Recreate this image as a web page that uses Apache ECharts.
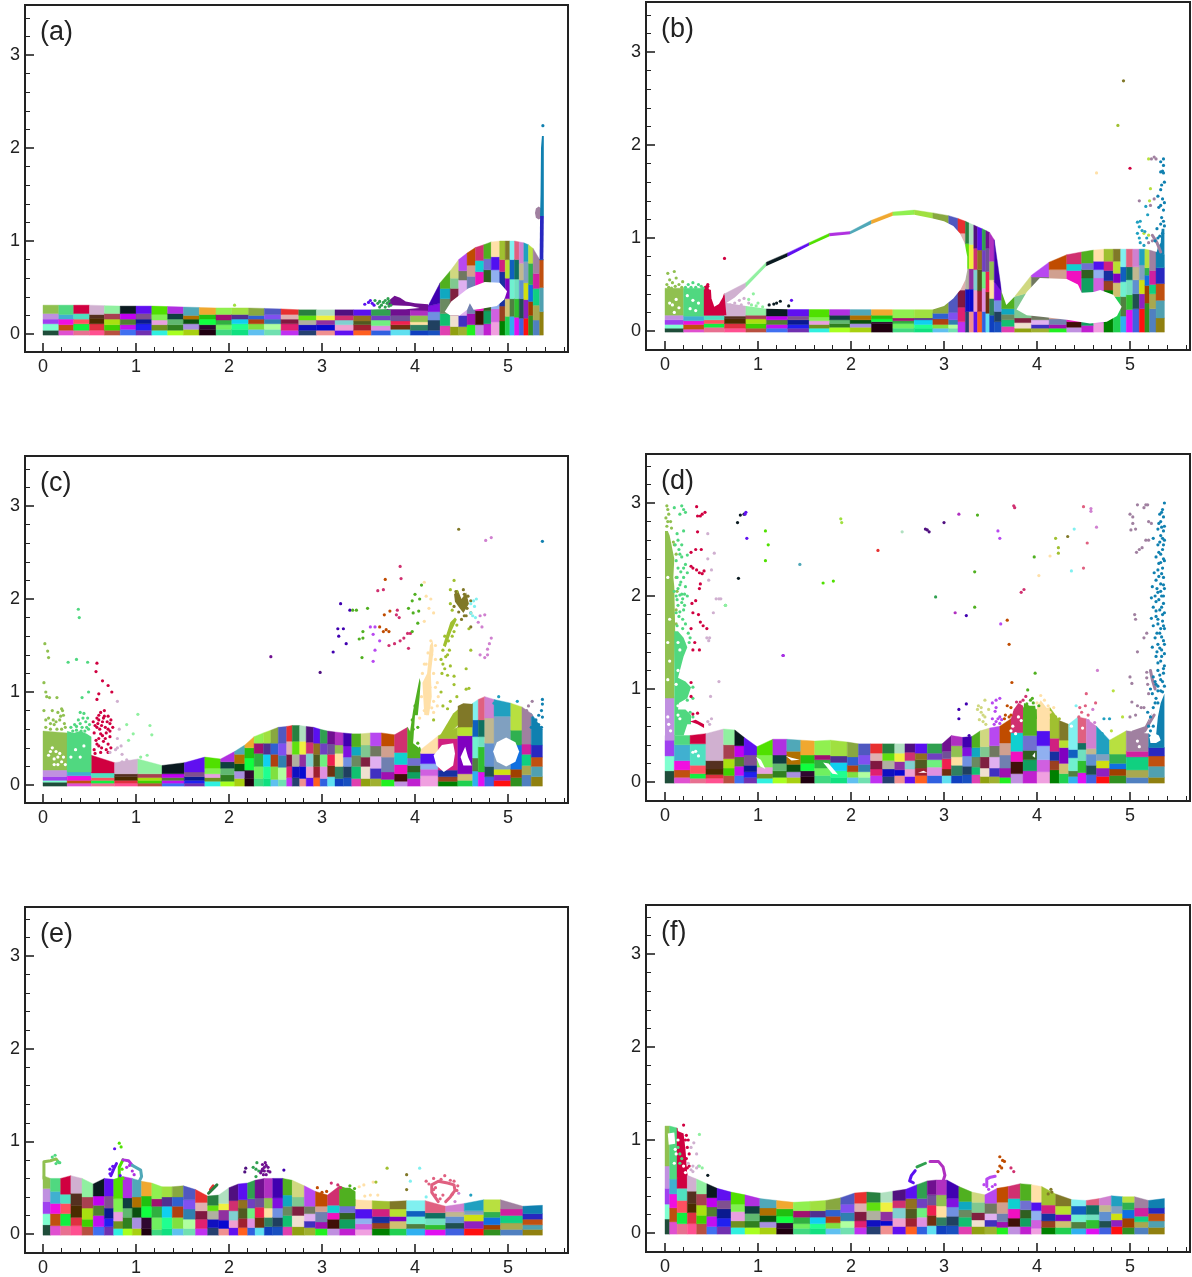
<!DOCTYPE html>
<html><head><meta charset="utf-8">
<script src="https://cdn.jsdelivr.net/npm/echarts@6/dist/echarts.min.js"></script>
<style>html,body{margin:0;padding:0;background:#fff}#c{width:1192px;height:1277px;filter:blur(.45px)}</style>
</head><body><div id="c"></div>
<script>
// ---------- shared: column colours, bottom row to top row ----------
const cellColours=[
['#1f4d3a','#7fffd0','#a040f0','#c090e0','#90c050'],['#e050d0','#c05010','#f010e0','#40b0d0','#50d880'],
['#e87090','#10f040','#ff5060','#50e0c0','#d00040'],['#ff5090','#e03040','#4a2c00','#553020','#d0b0d0'],
['#b85040','#40d000','#a8e010','#a84050','#90f0a0'],['#4070f0','#c010f0','#508030','#c000f0','#0a1a20'],
['#7030b0','#2020f0','#0a1a90','#805090','#6010f0'],['#30f0e0','#709020','#e8a0e0','#80f050','#50e000'],
['#a8ff20','#308020','#60b870','#103f40','#b030e0'],['#a8d010','#a890e0','#0a5010','#b07000','#50a8b8'],
['#200010','#300830','#10ff40','#20c010','#f0a830'],['#40d880','#70f060','#30b040','#a01070','#90f050'],
['#10e080','#20ff90','#10d0f0','#503090','#a0e040'],['#60c0f0','#80e040','#b04010','#3060d0','#88a840'],
['#70e0b0','#b0ffa0','#3080b0','#8050f0','#5058c0'],['#c030f0','#e02070','#801840','#e0b0b0','#e83030'],
['#254070','#1010c0','#b0b0a0','#60e010','#288040'],['#f09090','#0808d0','#9030a0','#f0f040','#b0e0c0'],
['#6010f0','#f0a0d0','#80d0d0','#d03070','#501080'],['#ff6020','#a02030','#505a20','#907020','#5a10f0'],
['#3060e0','#e090e0','#70f080','#7040c0','#30a050'],['#60e0f0','#703010','#f02050','#705098','#701090'],
['#1040c0','#308060','#ffe0a0','#90c050','#b030c0'],['#1850c0','#204060','#7090e0','#8010e0','#4000b0'],
['#e040b0','#10c070','#6a8a60','#10a8c0','#50b020'],['#90a010','#f0e0d0','#802040','#80c890','#d0d880'],
['#a0b030','#4030c0','#e0b0f0','#707860','#b848f0'],['#20f020','#a010b0','#7080b0','#d0a090','#c04c00'],
['#c090e0','#401008','#f010c0','#10d0d0','#d03070'],['#c020d0','#10a060','#306020','#7070d0','#50b020'],
['#f0a0e0','#d060e0','#90b0f0','#5010f0','#ffe0a8'],['#008000','#9a4020','#1830a0','#d02080','#a0c030'],
['#20d050','#d0c070','#8000c0','#b8e030','#807828'],['#30b0f0','#508040','#70f0d0','#1060c0','#80f0f0'],
['#e010f0','#30c030','#70e0c0','#107060','#e06080'],['#4060e0','#205050','#6090d0','#c0b890','#d080d0'],
['#ff1010','#9020c0','#d0e010','#80a0c0','#20a0c0'],['#309020','#a04000','#1070e0','#30b050','#b8e040'],
['#5080c0','#a8a850','#10d080','#d020a0','#a080a0'],['#908010','#50a0b0','#c05010','#2828c0','#1080b0']];
const xTickLabels=[0,1,2,3,4,5];
const yTickLabels=[0,1,2,3];
const xMinorTicks=[.2,.4,.6,.8,1.2,1.4,1.6,1.8,2.2,2.4,2.6,2.8,3.2,3.4,3.6,3.8,4.2,4.4,4.6,4.8,5.2,5.4,5.6];
const yMinorTicks=[.2,.4,.6,.8,1.2,1.4,1.6,1.8,2.2,2.4,2.6,2.8,3.2,3.4];

// ---------- panel (a) ----------
const edgesA=[0,.17,.33,.5,.66,.83,1,1.17,1.34,1.51,1.68,1.86,2.03,2.21,2.38,2.56,2.75,2.94,3.14,3.34,3.53,3.74,3.95,4.14,4.27,4.38,4.47,4.56,4.65,4.74,4.82,4.91,4.97,5.02,5.07,5.12,5.17,5.22,5.27,5.34,5.38];
const surfA=[.31,.31,.31,.31,.305,.3,.3,.3,.295,.29,.285,.28,.28,.28,.275,.27,.26,.26,.26,.26,.26,.27,.3,.3,.55,.68,.8,.87,.93,.96,.99,1,1,1,1,.99,.98,.96,.92,.8,.8];
const rowsA=[[.04,.11,.16,.22],[.04,.1,.16,.21],[.04,.11,.16,.22],[.04,.11,.17,.21],[.04,.1,.16,.22],[.05,.1,.16,.22],[.04,.11,.16,.22],[.04,.1,.15,.21],[.04,.1,.16,.22],[.05,.11,.16,.2],[.05,.1,.16,.21],[.05,.1,.15,.21],[.05,.11,.16,.21],[.05,.11,.16,.2],[.05,.11,.16,.21],[.04,.11,.16,.21],[.04,.1,.15,.2],[.04,.1,.15,.2],[.04,.1,.15,.2],[.04,.1,.14,.2],[.04,.09,.15,.2],[.05,.1,.14,.2],[.04,.1,.13,.2],[.04,.15,.24,.33],[.09,.22,.38,.49],[.08,.2,.49,.6],[.08,.2,.58,.68],[.1,.22,.62,.74],[.1,.25,.67,.79],[.11,.25,.69,.81],[.13,.27,.69,.83],[.14,.3,.67,.8],[.19,.38,.6,.8],[.19,.38,.59,.8],[.18,.38,.59,.8],[.17,.38,.58,.76],[.17,.37,.55,.78],[.2,.35,.53,.76],[.15,.31,.49,.65],[.24,.5,.8,.8]];
const holesA=[[3.65,.28,3.75,.31,3.95,.3,4.05,.28,3.9,.265,3.72,.265],[4.32,.24,4.39,.35,4.57,.49,4.75,.56,4.91,.55,4.99,.46,4.96,.37,4.88,.3,4.7,.27,4.63,.26,4.59,.33,4.56,.26,4.48,.2,4.38,.2]];
const blobsA=[[22,5,[3.7,.26,3.72,.36,3.78,.41,3.84,.39,3.9,.35,4,.33,4.14,.32,4.14,.25]],[39,5,[5.29,1.3,5.3,1.35,5.33,1.37,5.36,1.35,5.37,1.3,5.36,1.25,5.33,1.23,5.3,1.25]],[40,4,[5.34,.8,5.345,1.27,5.385,1.27,5.38,.8]],[40,5,[5.345,1.27,5.35,1.5,5.355,2.0,5.365,2.13,5.385,2.13,5.385,1.27]]];
const strandsA=[];
const sprayA=[[20,5,[3.46,.32,3.5,.34,3.52,.36,3.54,.33,3.56,.31]],[21,5,[3.57,.36,3.6,.33,3.62,.35,3.64,.31,3.66,.34,3.68,.36,3.7,.33,3.72,.35,3.74,.31,3.62,.29,3.68,.29,3.72,.3,3.71,.38]],[13,5,[2.06,.31]],[40,5,[5.375,2.24]]];

// ---------- panel (b) ----------
const edgesB=[0,.2,.42,.64,.87,1.09,1.32,1.55,1.77,1.99,2.22,2.45,2.68,2.88,3.05,3.15,3.23,3.27,3.32,3.36,3.41,3.45,3.49,3.54,3.62,3.76,3.94,4.13,4.32,4.48,4.61,4.72,4.82,4.9,4.96,5.03,5.1,5.16,5.21,5.28,5.37];
const surfB=[.46,.46,.46,.4,.52,.74,.84,.95,1.05,1.07,1.19,1.28,1.3,1.27,1.24,1.21,1.18,1.16,1.14,1.12,1.1,1.08,1.06,.98,.42,.37,.6,.74,.82,.85,.87,.88,.88,.88,.88,.88,.88,.88,.87,.85,.82];
const rowsB=[[.03,.07,.12,.17],[.02,.07,.11,.16],[.04,.08,.12,.17],[.03,.08,.13,.16],[.03,.08,.13,.17],[.03,.07,.12,.16],[.03,.07,.12,.16],[.03,.07,.11,.15],[.04,.08,.12,.17],[.04,.08,.12,.17],[.08,.1,.13,.17],[.03,.08,.11,.14],[.03,.07,.12,.14],[.03,.07,.13,.19],[.03,.07,.12,.2],[.1,.255,.44,1.05],[.21,.45,.67,.94],[.21,.45,.67,.93],[.21,.44,.66,.89],[.21,.43,.66,.87],[.21,.46,.64,.87],[.19,.42,.64,.89],[.17,.35,.55,.75],[.1,.21,.33,.53],[.05,.12,.18,.24],[.03,.09,.14,.42],[.03,.07,.12,.58],[.03,.07,.13,.66],[.04,.1,.65,.72],[.06,.57,.66,.73],[.09,.57,.66,.75],[.44,.54,.65,.75],[.37,.52,.62,.75],[.16,.37,.53,.69],[.23,.39,.55,.69],[.24,.4,.55,.69],[.24,.4,.55,.71],[.3,.49,.6,.68],[.24,.4,.5,.65],[.14,.33,.51,.68]];
const holesB=[[.66,.3,.87,.27,1.09,.24,1.32,.235,2.88,.23,3,.27,3.1,.35,3.18,.45,3.23,.55,3.25,.65,3.25,.8,3.22,.95,3.17,1.05,3.1,1.13,3,1.18,2.88,1.21,2.68,1.25,2.45,1.24,2.22,1.15,1.99,1.04,1.77,1.02,1.55,.92,1.32,.8,1.09,.7,.87,.47,.75,.36],[3.62,.42,3.67,.28,3.76,.37,3.76,.5,3.62,.5],[3.78,.23,3.89,.42,4.03,.57,4.32,.56,4.44,.5,4.48,.41,4.61,.42,4.68,.44,4.82,.39,4.91,.26,4.86,.16,4.75,.1,4.57,.08,4.32,.12,4.07,.15,3.89,.17],[.49,.5,.5,.35,.53,.26,.58,.29,.62,.36,.64,.42,.64,.5]];
const blobsB=[[3,5,[.42,.17,.42,.48,.46,.5,.5,.3,.53,.26,.58,.3,.64,.39,.66,.17]],[40,5,[5.28,.82,5.3,.9,5.33,.95,5.34,1.1,5.37,1.1,5.37,.82]]];
const strandsB=[[39,5,[5.24,1.03,5.29,.95,5.33,.85]]];
const sprayB=[[1,5,[.03,.62,.1,.64,.05,.55,.12,.57,.02,.5,.08,.52,.15,.5,.04,.47,.11,.48,.18,.47,.07,.46,.19,.53]],[2,5,[.25,.5,.3,.52,.36,.5,.39,.48,.28,.47,.22,.47,.33,.47,.41,.46]],[3,5,[.46,.5,.46,.48,.45,.45,.64,.78]],[4,5,[.7,.28,.75,.3,.8,.33,.85,.35,.82,.28,.78,.26,.9,.3]],[5,5,[.95,.4,.9,.34,1,.3,1.05,.26,.93,.28,.98,.27]],[6,5,[1.2,.3,1.24,.32,1.12,.28,1.33,.27,1.17,.29]],[7,5,[1.36,.33]],[33,5,[4.93,2.69]],[32,5,[4.87,2.21]],[31,5,[4.64,1.7]],[3,5,[5,1.75]],[39,5,[5.23,1.85,5.26,1.87,5.28,1.85,5.26,1.42,5.22,1.35,5.1,1.4,5.2,.95,5.24,.97]],[38,5,[5.2,1.85,5.22,1.53,5.21,1.4,5.15,1.05,5.2,1.03]],[37,5,[5.08,1.17,5.1,1.12,5.11,1.18,5.08,1.05,5.1,1,5.13,1.08,5.16,1.07,5.11,.95,5.18,1,5.15,.92,5.17,1.34,5.19,1.25]],[40,5,[5.36,1.85,5.33,1.82,5.36,1.78,5.35,1.72,5.33,1.71,5.36,1.7,5.37,1.6,5.34,1.57,5.33,1.52,5.3,1.45,5.35,1.42,5.37,1.38,5.33,1.35,5.36,1.3,5.31,1.33,5.34,1.22,5.36,1.18,5.33,1.15,5.37,1.13,5.29,1.1,5.35,1.05,5.32,1.02,5.3,1,5.27,.97]],[0,0,[.05,.3,.08,.28,.12,.34,.15,.25,.24,.38,.3,.33,.36,.3,.27,.24,.1,.2,.33,.22]]];

// ---------- panel (c) ----------
const edgesC=[0,.26,.52,.77,1.02,1.28,1.52,1.74,1.91,2.06,2.17,2.27,2.37,2.45,2.53,2.62,2.68,2.76,2.83,2.91,2.98,3.06,3.14,3.23,3.32,3.42,3.52,3.64,3.78,3.92,4.06,4.25,4.46,4.62,4.68,4.75,4.85,5.03,5.15,5.25,5.37];
const surfC=[.58,.56,.32,.24,.28,.21,.24,.3,.28,.36,.43,.52,.56,.59,.62,.63,.64,.64,.63,.62,.6,.58,.57,.56,.55,.55,.56,.56,.54,.62,.38,.53,.62,.88,.92,.95,.92,.88,.84,.77,.6];
const rowsC=[[.03,.05,.09,.16],[.02,.05,.1,.14],[.02,.05,.08,.13],[.02,.05,.09,.12],[.02,.05,.08,.12],[.02,.05,.08,.12],[.02,.05,.09,.14],[.04,.08,.12,.18],[.04,.11,.18,.25],[.07,.15,.23,.33],[.07,.16,.29,.4],[.07,.2,.34,.45],[.07,.2,.33,.45],[.06,.2,.33,.45],[.06,.19,.32,.45],[.08,.2,.33,.47],[.08,.2,.33,.47],[.07,.2,.33,.47],[.08,.2,.34,.46],[.08,.2,.33,.45],[.07,.2,.33,.45],[.09,.21,.33,.44],[.07,.2,.34,.43],[.08,.2,.3,.42],[.07,.2,.32,.41],[.07,.2,.3,.43],[.07,.18,.31,.42],[.06,.14,.3,.42],[.04,.12,.22,.35],[.07,.14,.21,.29],[.1,.17,.23,.34],[.04,.09,.16,.5],[.05,.12,.53,.66],[.15,.29,.52,.7],[.14,.41,.52,.7],[.09,.2,.45,.72],[.05,.11,.17,.74],[.08,.17,.43,.59],[.11,.21,.33,.44],[.09,.2,.3,.43]];
const holesC=[[4.2,.32,4.29,.43,4.41,.45,4.43,.34,4.41,.21,4.31,.14,4.23,.21],[4.49,.3,4.54,.41,4.57,.3,4.61,.21,4.52,.21],[4.84,.36,4.88,.46,4.98,.51,5.08,.46,5.12,.36,5.08,.25,4.98,.2,4.88,.25],[3.98,.45,4.04,.4,4.1,.55,4.12,.75,4,.75],[4.22,.52,4.1,.42,4.08,.7,4.15,.72]];
const blobsC=[[2,5,[.26,.14,.26,.58,.33,.56,.4,.58,.47,.55,.52,.52,.52,.14]],[30,5,[3.93,.43,3.95,.6,3.98,.8,4.02,1,4.05,1.15,4.06,1.1,4.05,.95,4.03,.75,4,.6,4,.45,4.06,.4,4.06,.36,3.92,.36]],[31,5,[4.1,.75,4.08,1.1,4.13,1.2,4.16,1.5,4.19,1.55,4.2,1.45,4.17,1.2,4.18,.95,4.15,.75]],[32,5,[4.25,.5,4.41,.77,4.47,.82,4.5,.68,4.43,.61,4.31,.52]],[33,5,[4.46,.62,4.46,.85,4.52,.88,4.62,.87,4.62,.62]],[33,5,[4.42,2.05,4.46,2.1,4.5,2.0,4.55,2.07,4.58,1.95,4.52,1.85,4.48,1.9,4.43,1.97]],[32,5,[4.3,1.5,4.38,1.75,4.43,1.8,4.45,1.78,4.39,1.65,4.33,1.48]]];
const strandsC=[];
const sprayC=[[1,5,[.02,1.52,.05,1.44,.06,1.37,.01,1.1,.03,1,.04,.95,.07,.94,.15,.94,.2,.82,.22,.75,.1,.8,.18,.7,.06,.72,.12,.65,.03,.7,.23,.66,.15,.6,.03,.62,.08,.6,.2,.6,.24,.62,.11,.7,.16,.78,.19,.74,.21,.8,.08,.66,.14,.68,.01,.8]],[2,5,[.38,1.89,.39,1.8,.27,1.32,.36,1.35,.48,1.32,.49,1,.42,.94,.4,.78,.44,.77,.48,.72,.38,.7,.34,.65,.42,.62,.5,.65,.3,.62,.45,.58,.36,.59,.4,.66,.46,.68,.43,.72,.36,.63,.32,.58,.49,.6,.41,.58,.47,.62]],[3,5,[.58,1.31,.57,1.22,.64,1.12,.7,1.07,.74,1,.6,.98,.58,.92,.54,.68,.6,.7,.65,.72,.7,.74,.62,.78,.66,.8,.72,.66,.58,.62,.63,.64,.7,.6,.55,.56,.62,.55,.68,.56,.75,.62,.57,.48,.65,.47,.6,.42,.7,.44,.55,.38,.56,.64,.59,.66,.61,.6,.64,.68,.67,.62,.69,.68,.73,.7,.66,.74,.58,.72,.6,.75,.72,.58,.64,.53,.6,.5,.67,.5,.72,.52,.58,.44,.63,.4,.68,.38,.73,.4,.56,.34,.62,.35,.7,.35]],[4,5,[.8,.9,.82,.6,.8,.5,.84,.42,.78,.38,.72,.35,.9,.27,.8,.4,.85,.33,.92,.25,.85,.25]],[5,5,[.9,.65,1.02,.76,1.15,.64,1.17,.54,.97,.55,.92,.48,1.05,.3,1.12,.32]],[22,5,[2.45,1.38]],[19,5,[2.98,1.21]],[24,5,[3.12,1.43,3.18,1.6,3.2,1.95,3.17,1.68,3.23,1.68,3.26,1.52,3.3,1.88]],[25,5,[3.4,1.57,3.33,1.88,3.37,1.88,3.44,1.65,3.43,1.37]],[27,5,[3.55,1.33,3.57,1.45,3.52,1.7,3.57,1.7,3.55,1.62,3.62,1.55]],[28,5,[3.68,2.21,3.67,1.83,3.73,1.87,3.62,1.7,3.66,1.65,3.69,1.67,3.72,1.65]],[29,5,[3.84,2.35,3.85,2.22,3.6,2.09,3.66,2.1,3.8,1.83,3.81,1.88,3.83,1.8,3.78,1.52,3.72,1.5,3.84,1.55,3.88,1.58,3.92,1.63,3.95,1.63,3.93,1.47]],[30,5,[4.07,2.15,4,2.05,3.97,1.98,4.05,2,3.93,1.9,3.98,1.85,4.04,1.87,4.03,1.74,3.97,1.65,3.44,1.58,3.49,1.9,3.96,.5,3.98,.6,3.97,.7,4,.85,4.03,.45,3.95,.45,4.03,.62]],[31,5,[4.1,2.18,4.12,2.03,4.17,2,4.15,1.9,4.2,1.85,4.1,1.76,4.2,.9,4.15,.85,4.1,.8,4.05,.72,4.22,1.05,4.1,1.3,4.25,.95,4.18,.83,4.08,1.2,4.12,1.3,4.14,1.42,4.18,1.4,4.22,1.35,4.17,1.55,4.22,1.5,4.13,1,4.16,1.05,4.2,1.2,4.24,1.1,4.07,.95,4.12,.9,4.2,.78,4.15,.95,4.24,.85]],[32,5,[4.42,2.2,4.38,2.1,4.45,2.08,4.38,1.95,4.4,1.88,4.45,1.72,4.42,1.65,4.35,1.4,4.3,1.3,4.38,1.28,4.42,1.17,4.42,1.08,4.29,1.2,4.28,1,4.58,1.04,4.55,1.03,4.3,.85,4.35,.82,4.2,.7,4.45,.95,4.38,.9,4.55,1.25,4.6,1.45,4.58,1.68,4.32,1.6,4.36,1.55,4.4,1.6,4.3,1.45,4.33,1.38,4.37,1.45,4.28,1.35,4.32,1.25,4.35,1.18]],[33,5,[4.47,2.75,4.55,1.82,4.6,1.85,4.5,1.78,4.6,1.7,4.44,2.08,4.46,2.03,4.53,2.05,4.57,2.03,4.6,1.98,4.42,1.92,4.47,1.86,4.53,1.82,4.56,1.9,4.52,2.1]],[34,5,[4.6,1.95,4.64,1.92,4.6,1.85,4.65,1.8,4.63,1.98,4.66,2,4.62,1.82]],[36,5,[4.76,2.63,4.82,2.66,4.75,1.83,4.7,1.82,4.68,1.75,4.72,1.7,4.82,1.58,4.8,1.52,4.78,1.46,4.75,1.37,4.7,1.4,4.78,1.4]],[40,5,[5.37,2.62,5.37,.92,5.37,.87,5.36,.8,5.33,.75,5.37,.73,5.28,.68,5.3,.7,5.25,.62,5.33,.65,5.36,.62,5.3,.6]],[39,5,[5.2,.8,5.22,.85,5.26,.9,5.25,.75]],[37,5,[4.9,.95,5,.85,5.1,.9,4.85,.88]],[0,0,[.1,.4,.14,.36,.18,.34,.12,.28,.2,.25,.16,.22,.06,.32,.22,.3,.3,.3,.35,.38,.4,.3,.44,.42,.08,.36,.16,.3,.24,.22,.12,.22]]];

// ---------- panel (d) ----------
const edgesD=[0,.1,.27,.44,.63,.75,.85,.99,1.16,1.31,1.46,1.61,1.78,1.96,2.08,2.21,2.34,2.47,2.58,2.69,2.82,2.98,3.08,3.2,3.3,3.39,3.49,3.6,3.72,3.85,4,4.14,4.24,4.34,4.44,4.53,4.64,4.78,4.96,5.2,5.37];
const surfD=[.5,.5,.5,.52,.57,.56,.48,.38,.46,.46,.45,.44,.45,.43,.41,.41,.41,.41,.41,.41,.41,.41,.5,.48,.49,.55,.58,.6,.68,.8,.78,.8,.66,.62,.7,.68,.6,.45,.55,.52,.37];
const rowsD=[[.12,.28,.45,.92],[.05,.13,.23,.4],[.04,.09,.18,.41],[.04,.08,.14,.23],[.07,.15,.25,.4],[.07,.17,.27,.39],[.05,.11,.18,.29],[.04,.09,.16,.29],[.05,.12,.2,.29],[.05,.11,.19,.33],[.06,.12,.2,.29],[.07,.15,.24,.29],[.05,.12,.21,.28],[.05,.11,.18,.27],[.05,.11,.19,.29],[.07,.14,.23,.31],[.06,.14,.23,.31],[.07,.13,.22,.31],[.06,.14,.23,.32],[.07,.15,.24,.31],[.07,.16,.24,.31],[.07,.14,.25,.33],[.07,.18,.27,.39],[.08,.17,.28,.37],[.08,.16,.27,.37],[.06,.15,.27,.38],[.06,.15,.27,.39],[.05,.15,.29,.42],[.09,.22,.33,.53],[.12,.24,.34,.5],[.11,.24,.39,.55],[.13,.23,.33,.47],[.09,.2,.37,.45],[.06,.12,.26,.35],[.1,.23,.35,.42],[.08,.18,.3,.36],[.06,.15,.23,.3],[.07,.14,.2,.3],[.05,.13,.27,.33],[.05,.17,.28,.37]];
const holesD=[[1.7,.21,1.76,.2,1.86,.08,1.8,.09],[.98,.27,1.03,.24,1.08,.14,1.02,.17],[1.3,.28,1.36,.23,1.45,.24,1.36,.26],[5.21,.48,5.25,.53,5.31,.5,5.33,.45,5.28,.42,5.22,.42],[2.72,.1,2.78,.12,2.82,.1],[3.95,.28,3.98,.32,3.98,.26]];
const blobsD=[[1,4,[0,.45,0,.92,.1,.92,.1,.45]],[1,5,[0,.9,0,2.7,.03,2.7,.05,2.65,.08,2.5,.1,2.4,.09,2.2,.1,2.1,.11,1.6,.1,1.2,.1,.9]],[2,5,[.1,.5,.1,1.62,.14,1.62,.2,1.55,.24,1.45,.2,1.35,.16,1.2,.14,1.12,.22,1.08,.28,1.02,.24,.9,.15,.85,.14,.78,.22,.78,.28,.72,.28,.62,.24,.62,.2,.5]],[40,5,[5.2,.37,5.22,.45,5.28,.5,5.3,.7,5.33,.85,5.37,.95,5.37,.37]],[39,5,[5.02,.52,5.02,.55,5.16,.6,5.24,.75,5.15,.52]],[3,5,[.27,.65,.35,.62,.42,.58,.42,.62,.33,.67]],[29,5,[3.72,.68,3.75,.78,3.8,.85,3.85,.82,3.85,.68]],[30,5,[3.85,.68,3.86,.85,3.92,.82,3.98,.82,4,.68]],[31,5,[4,.68,4,.8,4.04,.88,4.1,.8,4.14,.68]]];
const strandsD=[[39,5,[5.16,.55,5.2,.62,5.26,.72]],[39,5,[5.22,1.2,5.24,1.1,5.27,1]]];
const sprayD=[[1,5,[.02,2.97,.03,2.93,.04,2.88,.01,2.84,.06,2.8,.03,2.8,.07,2.73,.02,2.75,.09,2.58,.1,2.55,.12,2.45,.12,2.2,.13,2.05,.12,1.85,.12,1.7]],[2,5,[.1,2.95,.18,2.97,.2,2.93,.16,2.88,.22,2.9,.2,2.7,.13,2.67,.14,2.6,.18,2.55,.24,2.44,.18,2.42,.12,2.38,.22,2.34,.14,2.3,.17,2.26,.24,2.25,.13,2.2,.17,2.15,.22,2.1,.14,2.08,.1,2.05,.18,2.02,.24,2,.13,1.96,.18,1.93,.14,1.9,.21,1.9,.16,1.83,.12,1.82,.2,1.85,.24,.88,.27,.75,.2,1.5,.26,1.5,.65,1.9,.15,2.5,.11,2.55,.16,2.45,.2,2.3,.16,2.12,.2,2.2,.16,2.01,.21,2.02,.12,2,.19,1.97,.15,1.78,.19,1.75,.22,1.7,.25,1.6,.27,1.55,.19,1.65,.13,1.68,.3,1.02,.3,.9,.3,.7]],[3,5,[.34,2.96,.35,2.86,.38,2.86,.4,2.88,.43,2.9,.35,2.69,.28,2.47,.33,2.5,.39,2.5,.28,2.32,.3,2.3,.34,2.28,.37,2.25,.4,2.24,.42,2.27,.38,2.13,.37,2.08,.33,1.95,.29,1.92,.3,1.82,.36,1.8,.38,1.72,.41,1.68,.45,1.65,.28,1.65,.32,1.5,.3,1.42,.37,1.42,.28,.92,.28,1.07,.3,.73,.35,.74]],[4,5,[.46,2.67,.46,2.4,.53,2.46,.5,2.28,.47,2.17,.55,1.97,.58,1.97,.6,1.97,.52,1.82,.45,1.55,.48,1.55,.47,1.52,.49,.92,.58,1.08,.46,.65,.5,.68,.48,.62]],[5,5,[.65,1.9]],[6,5,[.78,2.79,.81,2.87,.85,2.88,.79,2.19]],[7,5,[.86,2.88,.87,2.9,.88,2.62,1.27,1.36]],[8,5,[1.08,2.7,1.11,2.55,1.08,2.38,1.7,2.14,1.81,2.16]],[9,5,[1.27,1.36]],[10,5,[1.45,2.34]],[13,5,[1.89,2.83,1.9,2.79]],[16,5,[2.29,2.49]],[18,5,[2.55,2.69]],[19,5,[2.8,2.72,2.82,2.71,2.84,2.69,3,2.79]],[21,5,[2.91,1.99]],[23,5,[3.12,1.82,3.16,2.88]],[24,5,[3.24,1.79,3.24,.84,3.16,.78,3.16,.68,3.27,.5]],[25,5,[3.36,2.87,3.33,2.26,3.33,1.88]],[26,5,[3.44,.88,3.37,.82,3.4,.75,3.44,.7,3.38,.67,3.42,.65,3.48,.78,3.45,.62,3.4,.8,3.36,.78,3.42,.72]],[27,5,[3.58,2.7,3.6,2.62,3.61,1.7,3.56,.88,3.6,.9,3.52,.85,3.56,.8,3.6,.7,3.52,.68,3.56,.65,3.6,.63,3.55,.76,3.58,.68,3.54,.62,3.62,.67]],[28,5,[3.68,1.74,3.7,1.48,3.73,1.07,3.68,.82,3.72,.8,3.66,.72,3.72,.72,3.65,.68,3.7,.7]],[29,5,[3.75,2.97,3.76,2.95,3.83,2.04,3.86,2.07,3.78,.86,3.85,.88,3.88,.92,3.76,.75,3.82,.86]],[30,5,[3.97,2.42,3.98,1.17,3.9,.99,3.96,.85,3.93,.88,4.02,.82,3.89,.84,3.95,.9]],[31,5,[4.02,2.22,4.14,2.43,4.04,.93,4,.85,4.08,.88,4.12,.82,4.18,.8,4.02,.78,4.06,.82,4.14,.75]],[32,5,[4.2,2.62,4.23,2.52,4.23,2.46,4.24,.68,4.2,.7]],[33,5,[4.33,2.64]],[34,5,[4.4,2.72,4.37,2.27,4.42,.82]],[35,5,[4.5,2.96,4.54,2.57,4.5,2.3,4.46,.8,4.48,.75,4.52,.82,4.45,.7,4.55,.72,4.63,.85,4.53,.95]],[36,5,[4.58,2.94,4.58,2.91,4.64,2.74,4.65,1.2,4.6,.78,4.55,.66,4.58,.62,4.62,.64]],[38,5,[4.82,.98,4.8,.55,4.92,.7]],[37,5,[4.78,.68,4.72,.68,4.7,.52]],[39,5,[5,2.88,5.03,2.85,5.08,2.98,5.03,2.78,5.01,2.71,5.06,2.72,5.17,2.98,5.19,2.98,5.15,2.95,5.2,2.8,5.23,2.78,5.17,2.6,5.2,2.6,5.13,2.52,5.07,2.47,5.1,2.5,5.05,1.8,5.06,1.75,5.18,1.6,5.15,1.55,5.08,1.4,5,1.13,5.02,1.06,5.02,.86,5.08,.82,5.12,.8,5.15,.8,5,.7,5.06,.72,5.2,.95,5.18,1.18,5.18,1.12,5.19,1.05]],[40,5,[5.37,3,5.35,2.93,5.32,2.88,5.36,2.85,5.33,2.8,5.37,2.75,5.3,2.72,5.36,2.7,5.33,2.65,5.25,2.62,5.37,2.6,5.3,2.55,5.35,2.5,5.33,2.45,5.28,2.42,5.37,2.38,5.31,2.35,5.35,2.3,5.26,2.25,5.36,2.2,5.28,2.17,5.33,2.13,5.24,2.1,5.37,2.08,5.3,2.04,5.34,2,5.23,1.98,5.28,1.94,5.36,1.92,5.25,1.88,5.32,1.85,5.37,1.82,5.28,1.78,5.23,1.76,5.35,1.73,5.3,1.7,5.25,1.68,5.37,1.65,5.32,1.6,5.27,1.55,5.36,1.52,5.3,1.48,5.24,1.45,5.34,1.42,5.37,1.38,5.28,1.35,5.33,1.3,5.37,1.25,5.3,1.2,5.36,1.17,5.25,1.13,5.33,1.1,5.28,1.05,5.37,1.03,5.22,1,5.3,.98,5.35,.97,5.24,.95,5.28,.9,5.19,.75,5.34,2.9,5.31,2.78,5.34,2.74,5.35,2.62,5.32,2.58,5.36,2.55,5.31,2.47,5.36,2.4,5.33,2.36,5.3,2.28,5.34,2.24,5.31,2.21,5.36,2.12,5.29,2.08,5.33,2.05,5.27,2,5.36,2,5.31,1.96,5.34,1.88,5.28,1.84,5.35,1.8,5.3,1.75,5.36,1.68,5.33,1.65,5.29,1.6,5.34,1.56,5.37,1.48,5.32,1.44,5.29,1.4,5.34,1.35,5.3,1.28,5.36,1.22,5.32,1.15,5.27,1.08,5.35,1.08,5.3,1.03,5.33,.98,5.27,.85,5.3,.85,5.25,.8,5.22,.7,5.25,.6,5.22,.55,5.2,.6]],[0,0,[.03,.7,.04,.62,.06,.55,.14,.82,.14,.72,.16,.68,.14,1.2,.12,1.05,.03,1.5,.05,1.3,.03,1.1,.14,1.5,.16,1.42,.05,1.75,.03,2.2,.33,.33,.36,.28,.3,.32,3.72,.55,3.74,.6,3.77,.52,3.8,.7,3.83,.66,4.37,.6,4.49,.58,5.1,.38,5.08,.44]]];

// ---------- panel (e) ----------
const edgesE=[0,.08,.19,.3,.42,.54,.66,.76,.86,.96,1.06,1.17,1.28,1.39,1.51,1.64,1.77,1.89,2,2.1,2.2,2.28,2.38,2.47,2.58,2.68,2.81,2.93,3.06,3.19,3.36,3.54,3.73,3.91,4.11,4.33,4.53,4.74,4.92,5.16,5.37];
const surfE=[.63,.6,.6,.63,.6,.54,.6,.59,.62,.6,.57,.55,.51,.51,.52,.48,.41,.42,.5,.54,.55,.58,.6,.6,.6,.58,.52,.46,.42,.52,.37,.36,.35,.36,.36,.3,.33,.37,.37,.3,.31];
const rowsE=[[.1,.22,.35,.49],[.09,.22,.33,.46],[.09,.22,.33,.43],[.09,.18,.31,.44],[.08,.16,.28,.4],[.08,.2,.31,.41],[.08,.17,.28,.41],[.06,.14,.24,.38],[.06,.18,.28,.39],[.06,.18,.29,.4],[.06,.18,.3,.41],[.05,.18,.3,.38],[.06,.18,.3,.4],[.06,.18,.3,.4],[.06,.16,.27,.37],[.06,.16,.25,.34],[.07,.16,.25,.31],[.06,.15,.26,.33],[.07,.15,.25,.36],[.07,.17,.28,.37],[.07,.17,.28,.38],[.07,.18,.29,.39],[.08,.18,.28,.39],[.08,.18,.28,.39],[.08,.2,.3,.42],[.08,.2,.3,.4],[.07,.14,.22,.3],[.06,.13,.24,.3],[.06,.16,.23,.31],[.06,.16,.23,.31],[.05,.11,.17,.27],[.06,.12,.19,.27],[.06,.14,.19,.27],[.06,.11,.19,.25],[.05,.1,.17,.23],[.06,.12,.19,.24],[.06,.14,.21,.25],[.05,.1,.18,.24],[.05,.12,.2,.27],[.05,.1,.16,.22]];
const holesE=[];
const blobsE=[[30,5,[3.19,.3,3.19,.52,3.25,.5,3.3,.5,3.36,.46,3.36,.3]]];
const strandsE=[[1,5,[.01,.6,.01,.78,.08,.79,.14,.81,.17,.77]],[7,5,[.73,.63,.76,.7,.79,.76]],[8,5,[.82,.6,.82,.72,.86,.8]],[9,5,[.86,.8,.92,.79,.96,.74]],[10,5,[.96,.74,1.05,.69,1.06,.62,1.03,.56]],[16,5,[1.8,.48,1.83,.52]],[17,5,[1.78,.44,1.84,.5,1.87,.53]],[35,5,[4.25,.35,4.18,.45,4.18,.53,4.25,.57,4.35,.55,4.42,.53,4.43,.47,4.38,.4,4.33,.35]]];
const sprayE=[[2,5,[.1,.83,.13,.85,.16,.78,.18,.77,.14,.76]],[8,5,[.82,.98,.84,.94,.85,.7,.86,.6]],[7,5,[.77,.92,.75,.73,.72,.7,.72,.65,.83,.63]],[9,5,[.9,.72,.96,.68,.93,.74,.98,.64]],[19,5,[2.18,.71,2.17,.67]],[21,5,[2.3,.77,2.29,.7,2.32,.68,2.26,.72,2.29,.62]],[22,5,[2.36,.75,2.38,.72,2.4,.74,2.35,.68,2.42,.68,2.4,.64,2.37,.64,2.44,.67,2.39,.77,2.34,.66,2.38,.68,2.42,.72,2.36,.7]],[24,5,[2.59,.69]],[28,5,[2.95,.5,3,.45,3.05,.46]],[29,5,[3.1,.55,3.17,.53,3.2,.5]],[30,5,[3.3,.52,3.35,.49,3.33,.45]],[31,5,[3.45,.53,3.55,.56,3.4,.51,3.52,.42,3.6,.42,3.46,.41]],[32,5,[3.7,.71,3.58,.56]],[33,5,[3.91,.64,3.91,.48]],[34,5,[4.05,.71,3.95,.57,4.12,.4]],[35,5,[4.12,.57,4.2,.6,4.32,.63,4.15,.54,4.42,.57,4.46,.52,4.45,.47,4.22,.42,4.4,.43,4.2,.48,4.22,.5,4.28,.59,4.38,.58,4.3,.42,4.27,.38]],[36,5,[4.47,.44,4.43,.35]],[37,5,[4.6,.42]]];

// ---------- panel (f) ----------
const edgesF=[0,.05,.13,.24,.34,.45,.56,.71,.86,1.02,1.2,1.38,1.56,1.73,1.89,2.04,2.17,2.32,2.45,2.59,2.71,2.82,2.92,3.03,3.16,3.3,3.44,3.57,3.69,3.82,3.94,4.05,4.2,4.37,4.53,4.67,4.8,4.92,5.05,5.2,5.37];
const surfF=[1.15,1.15,1.13,.62,.58,.53,.48,.44,.41,.37,.35,.33,.34,.35,.38,.43,.44,.43,.45,.47,.52,.56,.57,.57,.5,.44,.41,.48,.5,.53,.52,.5,.42,.36,.35,.37,.4,.39,.39,.35,.37];
const rowsF=[[.15,.31,.48,.72],[.12,.27,.42,.58],[.1,.22,.35,.48],[.1,.22,.32,.45],[.1,.19,.3,.42],[.07,.18,.28,.38],[.07,.16,.26,.35],[.06,.13,.23,.31],[.06,.13,.21,.29],[.06,.12,.19,.27],[.05,.11,.18,.26],[.05,.1,.17,.24],[.05,.1,.17,.24],[.05,.11,.18,.25],[.06,.13,.22,.31],[.06,.13,.23,.32],[.07,.14,.24,.33],[.08,.13,.23,.33],[.07,.16,.27,.35],[.07,.16,.26,.37],[.07,.17,.27,.37],[.08,.19,.3,.41],[.08,.17,.29,.41],[.08,.18,.28,.37],[.07,.17,.25,.34],[.07,.14,.22,.33],[.07,.14,.21,.32],[.06,.12,.21,.33],[.07,.16,.26,.37],[.07,.16,.25,.35],[.05,.14,.24,.33],[.06,.13,.21,.3],[.06,.13,.2,.29],[.05,.12,.2,.29],[.05,.14,.2,.3],[.06,.13,.23,.3],[.07,.14,.21,.29],[.06,.16,.25,.33],[.06,.12,.18,.27],[.06,.13,.21,.27]];
const holesF=[[.03,1.07,.1,1.08,.11,.96,.04,.95]];
const blobsF=[[3,5,[.13,.6,.13,1.1,.2,1.07,.22,.9,.24,.62]]];
const strandsF=[[21,5,[2.71,.71,2.8,.75]],[23,5,[2.85,.77,2.94,.77,2.99,.71,3.01,.62,2.99,.56]],[20,5,[2.69,.67,2.65,.62,2.63,.56,2.67,.54]],[27,5,[3.46,.5,3.46,.58,3.5,.6,3.55,.61]]];
const sprayF=[[3,5,[.2,1.16,.23,1.05,.25,1,.24,.92,.26,.85,.23,.8,.22,1,.24,.7,.26,.72]],[4,5,[.28,.92,.31,.97,.34,.85,.25,.75,.3,.72,.34,.7,.28,.68,.36,.72,.3,.66]],[5,5,[.37,.72,.4,.7,.37,1.06]],[6,5,[.46,.62]],[2,5,[.18,.8,.16,.85,.14,.92,.16,.75]],[28,5,[3.6,.82,3.63,.78,3.65,.77,3.62,.7,3.58,.66,3.6,.72]],[29,5,[3.72,.7,3.75,.66]],[27,5,[3.43,.52,3.48,.47,3.52,.5,3.55,.52]],[33,5,[4.15,.47,4.16,.44,4.12,.42]],[0,0,[.12,.85,.11,.9,.14,1,.1,.75,.2,.72,.22,.65]]];

// ---------- assembling the panels ----------
const panels=[
 {name:'(a)',frame:[25,5,568,352],origin:[43,334],edges:edgesA,surf:surfA,rows:rowsA,holes:holesA,blobs:blobsA,strands:strandsA,spray:sprayA},
 {name:'(b)',frame:[646,2,1190,350],origin:[665,331],edges:edgesB,surf:surfB,rows:rowsB,holes:holesB,blobs:blobsB,strands:strandsB,spray:sprayB},
 {name:'(c)',frame:[25,456,568,803],origin:[43,785],edges:edgesC,surf:surfC,rows:rowsC,holes:holesC,blobs:blobsC,strands:strandsC,spray:sprayC},
 {name:'(d)',frame:[646,454,1190,801],origin:[665,782],edges:edgesD,surf:surfD,rows:rowsD,holes:holesD,blobs:blobsD,strands:strandsD,spray:sprayD},
 {name:'(e)',frame:[25,907,568,1254],origin:[43,1235],edges:edgesE,surf:surfE,rows:rowsE,holes:holesE,blobs:blobsE,strands:strandsE,spray:sprayE},
 {name:'(f)',frame:[646,905,1190,1252],origin:[665,1233],edges:edgesF,surf:surfF,rows:rowsF,holes:holesF,blobs:blobsF,strands:strandsF,spray:sprayF}
];
const UNIT=93, BASE=-.012, INK='#222';
const colourOf=(c,r)=>c===0?'#ffffff':cellColours[c-1][r-1];
const pairs=a=>{const o=[];for(let i=0;i<a.length;i+=2)o.push([a[i],a[i+1]]);return o;};

const option={animation:false,backgroundColor:'#fff',grid:[],xAxis:[],yAxis:[],series:[],graphic:[]};
panels.forEach((p,k)=>{
  const [l,t,r,b]=p.frame,[ox,oy]=p.origin;
  option.grid.push({left:l,top:t,width:r-l,height:b-t,show:true,borderColor:INK,borderWidth:2,backgroundColor:'#fff'});
  const xr={min:(l-ox)/UNIT,max:(r-ox)/UNIT},yr={min:(oy-b)/UNIT,max:(oy-t)/UNIT};
  const lab={color:INK,fontFamily:'"Liberation Sans"',fontSize:18};
  const line={lineStyle:{color:INK,width:1.6}};
  const noLine={show:false,onZero:false};
  option.xAxis.push(
    {type:'value',gridIndex:k,position:'bottom',...xr,splitLine:{show:false},axisLine:noLine,
     axisTick:{inside:true,length:9,customValues:xTickLabels,...line},axisLabel:{...lab,margin:6,customValues:xTickLabels}},
    {type:'value',gridIndex:k,position:'bottom',...xr,splitLine:{show:false},axisLine:noLine,
     axisTick:{inside:true,length:5,customValues:xMinorTicks,lineStyle:{color:INK,width:1}},axisLabel:{show:false}});
  option.yAxis.push(
    {type:'value',gridIndex:k,position:'left',...yr,splitLine:{show:false},axisLine:noLine,
     axisTick:{inside:true,length:9,customValues:yTickLabels,...line},axisLabel:{...lab,margin:5,customValues:yTickLabels}},
    {type:'value',gridIndex:k,position:'left',...yr,splitLine:{show:false},axisLine:noLine,
     axisTick:{inside:true,length:5,customValues:yMinorTicks,lineStyle:{color:INK,width:1}},axisLabel:{show:false}});
  const ax={xAxisIndex:k*2,yAxisIndex:k*2,silent:true,z:2};

  // cells
  const cells=[];
  p.rows.forEach((bnd,i)=>{
    const x0=p.edges[i],x1=p.edges[i+1],sl=p.surf[i],sr=p.surf[i+1];
    const levels=[BASE,...bnd];
    levels.forEach((lo,j)=>{
      const hi=j<4?levels[j+1]:Infinity;
      cells.push([x0,x1,Math.min(lo,sl),Math.min(lo,sr),Math.min(hi,sl),Math.min(hi,sr),i,j]);
    });
  });
  option.series.push({type:'custom',...ax,data:cells,encode:{x:[0,1],y:[2,3,4,5]},renderItem:(_,api)=>{
    const a=api.value(0),c=api.value(1),bl=api.value(2),br=api.value(3),tl=api.value(4),tr=api.value(5);
    const col=cellColours[api.value(6)][api.value(7)];
    return {type:'polygon',shape:{points:[api.coord([a,bl]),api.coord([c,br]),api.coord([c,tr]),api.coord([a,tl])]},style:{fill:col,stroke:col,lineWidth:.4}};
  }});
  // solid blobs
  const polySeries=(list,getPts,getCol)=>({type:'custom',...ax,data:list.map((_,i)=>[i]),encode:{x:0,y:0},renderItem:(_,api)=>{
    const it=list[api.value(0)];
    return {type:'polygon',shape:{points:pairs(getPts(it)).map(q=>api.coord(q))},style:{fill:getCol(it)}};
  }});
  option.series.push(polySeries(p.blobs,it=>it[2],it=>colourOf(it[0],it[1])));
  // thin curved strands
  option.series.push({type:'custom',...ax,data:p.strands.map((_,i)=>[i]),encode:{x:0,y:0},renderItem:(_,api)=>{
    const it=p.strands[api.value(0)];
    return {type:'polyline',shape:{points:pairs(it[2]).map(q=>api.coord(q))},style:{fill:null,stroke:colourOf(it[0],it[1]),lineWidth:3,lineCap:'round',lineJoin:'round'}};
  }});
  // cavities
  option.series.push(polySeries(p.holes,it=>it,()=>'#ffffff'));
  // droplets
  const drops=[];
  p.spray.forEach(s=>pairs(s[2]).forEach(q=>drops.push({value:q,itemStyle:{color:colourOf(s[0],s[1])}})));
  option.series.push({type:'scatter',...ax,z:3,data:drops,symbol:'circle',symbolSize:3.2,itemStyle:{opacity:1}});
  // panel letter
  option.graphic.push({type:'text',left:l+15,top:t+14,z:10,style:{text:p.name,fill:INK,font:'27px "Liberation Sans"'}});
});
const chart=echarts.init(document.getElementById('c'),null,{renderer:'canvas',width:1192,height:1277});
chart.setOption(option);
</script></body></html>
